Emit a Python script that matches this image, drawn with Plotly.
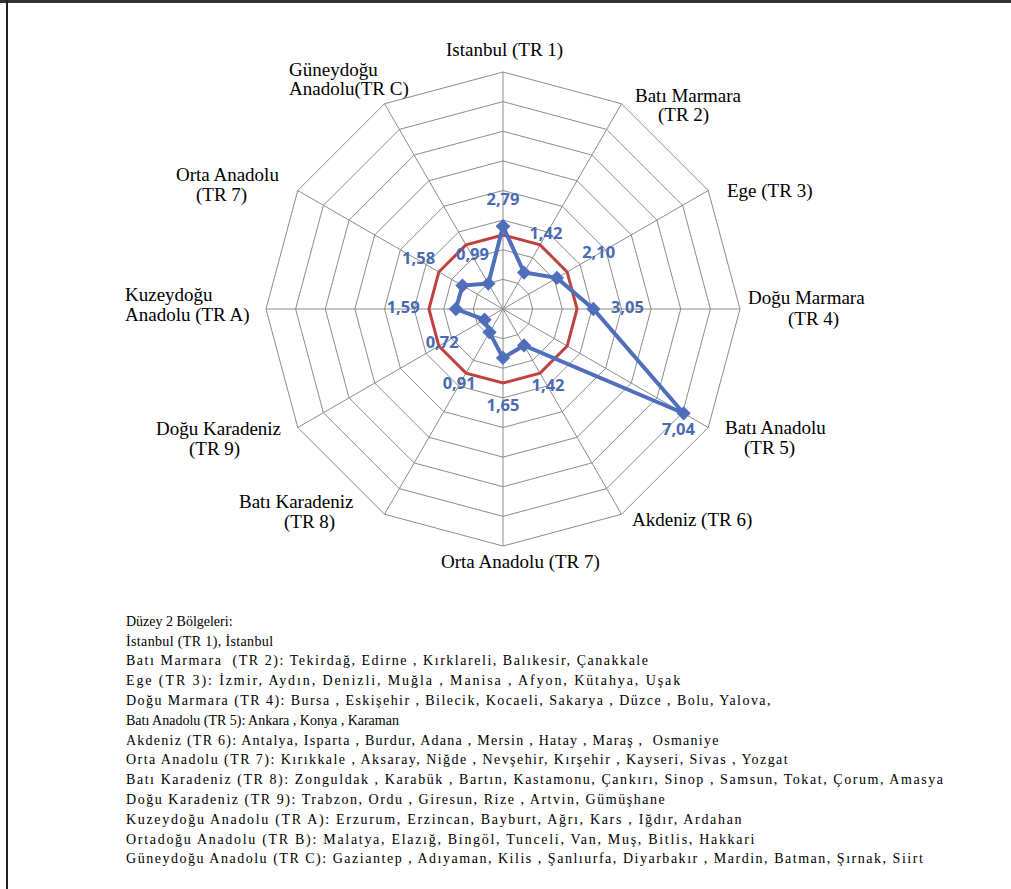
import plotly.graph_objects as go

# ---------------- data ----------------
CATEGORIES = [
    "İstanbul (TR 1)", "Batı Marmara (TR 2)", "Ege (TR 3)", "Doğu Marmara (TR 4)",
    "Batı Anadolu (TR 5)", "Akdeniz (TR 6)", "Orta Anadolu (TR 7)", "Batı Karadeniz (TR 8)",
    "Doğu Karadeniz (TR 9)", "Kuzeydoğu Anadolu (TR A)", "Ortadoğu Anadolu (TR B)",
    "Güneydoğu Anadolu (TR C)",
]
CATEGORY_LABELS = [
    ["Istanbul (TR 1)"], ["Batı Marmara", "(TR 2)"], ["Ege (TR 3)"], ["Doğu Marmara", "(TR 4)"],
    ["Batı Anadolu", "(TR 5)"], ["Akdeniz (TR 6)"], ["Orta Anadolu (TR 7)"], ["Batı Karadeniz", "(TR 8)"],
    ["Doğu Karadeniz", "(TR 9)"], ["Kuzeydoğu", "Anadolu (TR A)"], ["Orta Anadolu", "(TR 7)"],
    ["Güneydoğu", "Anadolu(TR C)"],
]
VALUES = [2.79, 1.42, 2.10, 3.05, 7.04, 1.42, 1.65, 0.91, 0.72, 1.59, 1.58, 0.99]
REFERENCE = [2.5, 2.5, 2.5, 2.5, 2.5, 2.5, 2.5, 2.5, 2.5, 2.5, 2.5, 2.5]
RADIAL_MAX = 8

LEGEND_LINES = [
    "Düzey 2 Bölgeleri:",
    "İstanbul (TR 1), İstanbul",
    "Batı Marmara  (TR 2): Tekirdağ, Edirne , Kırklareli, Balıkesir, Çanakkale",
    "Ege (TR 3): İzmir, Aydın, Denizli, Muğla , Manisa , Afyon, Kütahya, Uşak",
    "Doğu Marmara (TR 4): Bursa , Eskişehir , Bilecik, Kocaeli, Sakarya , Düzce , Bolu, Yalova,",
    "Batı Anadolu (TR 5): Ankara , Konya , Karaman",
    "Akdeniz (TR 6): Antalya, Isparta , Burdur, Adana , Mersin , Hatay , Maraş ,  Osmaniye",
    "Orta Anadolu (TR 7): Kırıkkale , Aksaray, Niğde , Nevşehir, Kırşehir , Kayseri, Sivas , Yozgat",
    "Batı Karadeniz (TR 8): Zonguldak , Karabük , Bartın, Kastamonu, Çankırı, Sinop , Samsun, Tokat, Çorum, Amasya",
    "Doğu Karadeniz (TR 9): Trabzon, Ordu , Giresun, Rize , Artvin, Gümüşhane",
    "Kuzeydoğu Anadolu (TR A): Erzurum, Erzincan, Bayburt, Ağrı, Kars , Iğdır, Ardahan",
    "Ortadoğu Anadolu (TR B): Malatya, Elazığ, Bingöl, Tunceli, Van, Muş, Bitlis, Hakkari",
    "Güneydoğu Anadolu (TR C): Gaziantep , Adıyaman, Kilis , Şanlıurfa, Diyarbakır , Mardin, Batman, Şırnak, Siirt",
]

# ---------------- layout / style ----------------
W, H = 1011, 889
CX, CY, R = 503, 309, 237          # centre and radius of the radar (pixels)
BLUE = "#4f6fbd"
LABEL_BLUE = "#4a6ab4"
RED = "#c0413f"
GRID = "#8c8c8c"

# radial distance added to each value for its data label, and text position
LABEL_PAD = [0.86, 1.48, 1.63, 1.15, -0.2, 1.62, 1.66, 2.05, 1.65, 1.78, 1.71, 1.07]
LABEL_POS = ["middle center"] * 12
LABEL_POS[4] = "bottom center"

# pixel placement of category label lines: (x, y, xanchor)
CAT_LABEL_PLACE = [
    [(504, 50, "center")],
    [(688, 95, "center"), (683, 115.5, "center")],
    [(725, 191, "left")],
    [(806, 298, "center"), (813, 319, "center")],
    [(775, 427.5, "center"), (769, 448, "center")],
    [(630, 520, "left")],
    [(520, 562, "center")],
    [(296, 501, "center"), (309, 521.5, "center")],
    [(218, 428.5, "center"), (214, 449, "center")],
    [(123, 294, "left"), (123, 315, "left")],
    [(227, 174.5, "center"), (221, 195, "center")],
    [(287, 69, "left"), (287, 89.5, "left")],
]
LEGEND_X, LEGEND_Y0, LEGEND_DY = 124, 621.7, 19.8
# extra letter spacing (px) per legend line so line lengths match the reference
LEGEND_SPACING = [0, 0.36, 1.53, 1.9, 1.44, 0, 1.25, 1.44, 1.56, 1.53, 1.68, 1.7, 1.52]


def px(x):
    return x / W


def py(y):
    return 1 - y / H


fig = go.Figure()

closed_theta = CATEGORIES + CATEGORIES[:1]
fig.add_trace(go.Scatterpolar(
    r=REFERENCE + REFERENCE[:1], theta=closed_theta, mode="lines",
    line=dict(color=RED, width=3), hoverinfo="skip",
))
fig.add_trace(go.Scatterpolar(
    r=VALUES + VALUES[:1], theta=closed_theta, mode="lines+markers",
    line=dict(color=BLUE, width=4),
    marker=dict(symbol="diamond", size=11, color=BLUE),
))
fig.add_trace(go.Scatterpolar(
    r=[v + p for v, p in zip(VALUES, LABEL_PAD)], theta=CATEGORIES, mode="markers+text",
    marker=dict(size=18, color="rgba(0,0,0,0)"),
    text=[f"{v:.2f}".replace(".", ",") for v in VALUES],
    textposition=LABEL_POS,
    textfont=dict(family="Open Sans", size=16.5, color=LABEL_BLUE, weight="bold"),
    hoverinfo="skip",
))

annotations = []
for lines, places in zip(CATEGORY_LABELS, CAT_LABEL_PLACE):
    for text, (x, y, anchor) in zip(lines, places):
        annotations.append(dict(
            text=text, x=px(x), y=py(y), xref="paper", yref="paper",
            xanchor=anchor, yanchor="middle", showarrow=False,
            font=dict(family="Liberation Serif", size=19, color="black"),
        ))
for i, (line, sp) in enumerate(zip(LEGEND_LINES, LEGEND_SPACING)):
    annotations.append(dict(
        text=f'<span style="letter-spacing:{sp}px">{line}</span>',
        x=px(LEGEND_X), y=py(LEGEND_Y0 + i * LEGEND_DY), xref="paper", yref="paper",
        xanchor="left", yanchor="middle", showarrow=False,
        font=dict(family="Liberation Serif", size=14, color="black"),
    ))

shapes = [
    dict(type="line", xref="paper", yref="paper", x0=0, x1=1, y0=py(1.5), y1=py(1.5),
         line=dict(color="#333333", width=3)),
    dict(type="line", xref="paper", yref="paper", x0=px(7), x1=px(7), y0=py(0), y1=py(H),
         line=dict(color="#222222", width=2)),
]

fig.update_layout(
    width=W, height=H, margin=dict(l=0, r=0, t=0, b=0),
    paper_bgcolor="white", plot_bgcolor="white", showlegend=False,
    annotations=annotations, shapes=shapes,
    polar=dict(
        domain=dict(x=[px(CX - R), px(CX + R)], y=[py(CY + R), py(CY - R)]),
        gridshape="linear", bgcolor="white",
        radialaxis=dict(range=[0, RADIAL_MAX], tick0=0, dtick=1, showticklabels=False,
                        ticks="", showline=False, gridcolor=GRID, gridwidth=1),
        angularaxis=dict(type="category", categoryarray=CATEGORIES, rotation=90,
                         direction="clockwise", showticklabels=False, ticks="",
                         gridcolor=GRID, linecolor=GRID, linewidth=1, showline=True),
    ),
)

fig.write_html("out.html", config={"displayModeBar": False},
               post_script="document.body.style.margin='0';")
